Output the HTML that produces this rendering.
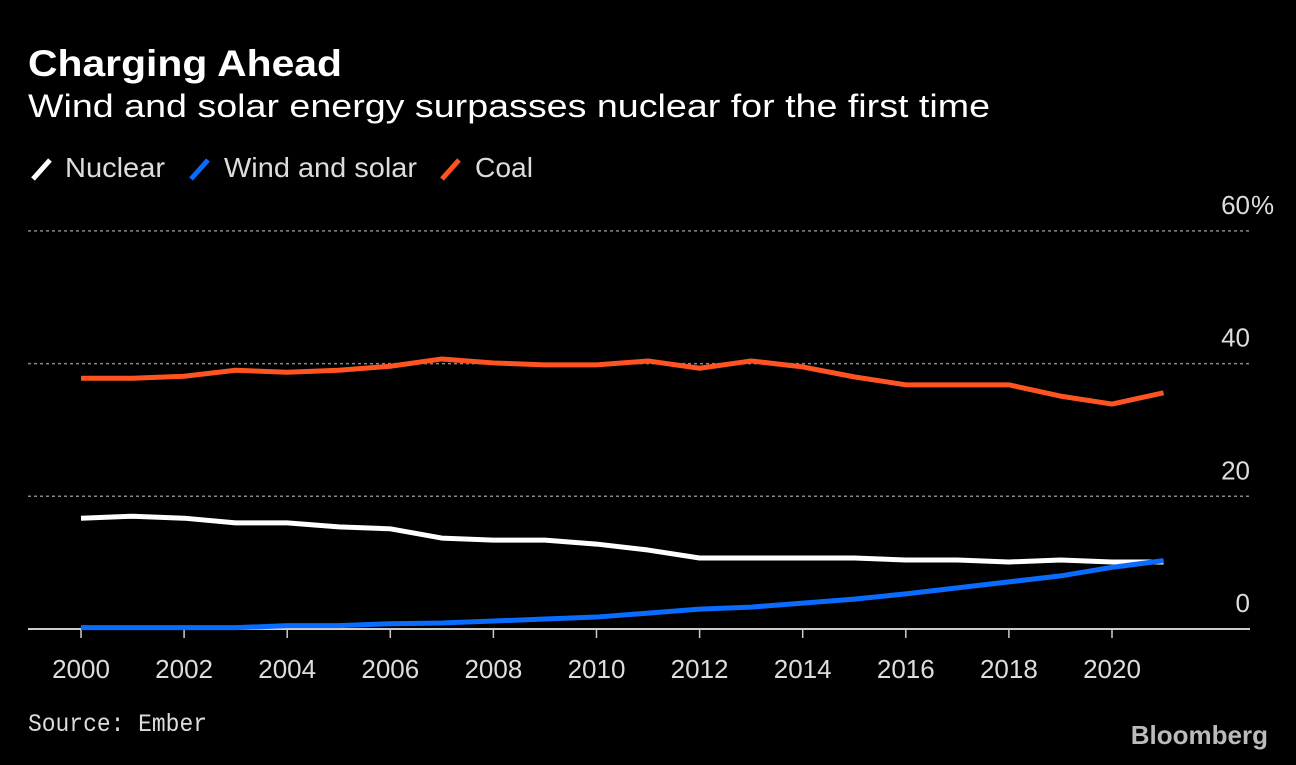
<!DOCTYPE html>
<html><head><meta charset="utf-8"><style>
body{margin:0;background:#000;width:1296px;height:760px;overflow:hidden;font-family:"Liberation Sans",sans-serif}
</style></head><body>
<svg width="1296" height="760">
<text x="28" y="76" fill="#fff" font-size="37" font-weight="bold" textLength="314" lengthAdjust="spacingAndGlyphs">Charging Ahead</text>
<text x="28" y="117" fill="#fff" font-size="32" textLength="962" lengthAdjust="spacingAndGlyphs">Wind and solar energy surpasses nuclear for the first time</text>
<g font-size="28" fill="#ddd">
<line x1="33" y1="179" x2="50" y2="160" stroke="#fff" stroke-width="5"/>
<text x="65" y="177" textLength="100" lengthAdjust="spacingAndGlyphs">Nuclear</text>
<line x1="191" y1="179" x2="208" y2="160" stroke="#0a6cff" stroke-width="5"/>
<text x="224" y="177" textLength="193" lengthAdjust="spacingAndGlyphs">Wind and solar</text>
<line x1="442" y1="179" x2="459" y2="160" stroke="#ff5422" stroke-width="5"/>
<text x="475" y="177" textLength="58" lengthAdjust="spacingAndGlyphs">Coal</text>
</g>
<g id="grid"></g><g id="lines"></g>
<text x="28" y="731" fill="#ddd" font-size="25" font-family="Liberation Mono, monospace" textLength="179" lengthAdjust="spacingAndGlyphs">Source: Ember</text>
<text x="1268" y="744" fill="#bbb" font-size="26" font-weight="bold" text-anchor="end">Bloomberg</text>
</svg>
<script>
const years=[2000,2001,2002,2003,2004,2005,2006,2007,2008,2009,2010,2011,2012,2013,2014,2015,2016,2017,2018,2019,2020,2021];
const coal=[37.8,37.8,38.1,39.0,38.7,39.0,39.6,40.7,40.1,39.8,39.8,40.4,39.3,40.4,39.5,38.0,36.8,36.8,36.8,35.1,33.9,35.6];
const nuclear=[16.7,17.0,16.7,16.0,16.0,15.4,15.1,13.7,13.4,13.4,12.8,11.9,10.7,10.7,10.7,10.7,10.4,10.4,10.1,10.4,10.1,10.1];
const windSolar=[0.2,0.2,0.2,0.2,0.5,0.5,0.8,0.9,1.2,1.5,1.8,2.4,3.0,3.3,3.9,4.5,5.3,6.2,7.1,8.0,9.3,10.3];
const yTicks=[0,20,40,60];
const xTicks=[2000,2002,2004,2006,2008,2010,2012,2014,2016,2018,2020];
const NS="http://www.w3.org/2000/svg";
const x=v=>81+(v-2000)*51.55, y=v=>629-v*6.635;
const g=document.getElementById('grid'), L=document.getElementById('lines');
function mk(tag,attrs,parent){const e=document.createElementNS(NS,tag);for(const k in attrs)e.setAttribute(k,attrs[k]);parent.appendChild(e);return e;}
yTicks.forEach(t=>{
 if(t>0){const l=mk('line',{x1:28,x2:1250,y1:y(t),y2:y(t),stroke:'#888','stroke-width':1.5,'stroke-dasharray':'3,3'},g);
 
 }
 const tx=mk('text',{x:1250,y:y(t)-17,fill:'#ddd','font-size':26,'text-anchor':'end'},g);
 tx.textContent=String(t);
 
 
 if(t===60){const pc=mk('text',{x:1251,y:y(t)-17,fill:'#ddd','font-size':26},g);
 pc.textContent='%';
 
 }
});
const ax=mk('line',{x1:28,x2:1250,y1:629,y2:629,stroke:'#ccc','stroke-width':2},g);


xTicks.forEach(t=>{
 const tk=mk('line',{x1:x(t),x2:x(t),y1:629,y2:638,stroke:'#ccc','stroke-width':1.5},g);
 
 
 const tx=mk('text',{x:x(t),y:678,fill:'#ddd','font-size':26,'text-anchor':'middle'},g);
 tx.textContent=t;
 
 
});
[[coal,'#ff5422','coal-line'],[nuclear,'#fff','nuclear-line'],[windSolar,'#0a6cff','wind-solar-line']].forEach(([d,c,n])=>{
 const p=mk('polyline',{points:d.map((v,i)=>x(years[i])+','+y(v)).join(' '),fill:'none',stroke:c,'stroke-width':5,'stroke-linejoin':'round'},L);
 
 
});
</script>
</body></html>
